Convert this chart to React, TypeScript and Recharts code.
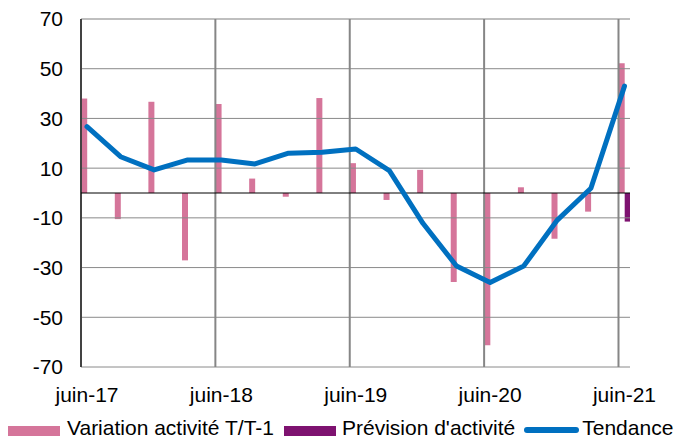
import { ComposedChart, Bar, Line, XAxis, YAxis, ReferenceLine } from 'recharts';

const quarters = [
  'juin-17', 'sept-17', 'déc-17', 'mars-18',
  'juin-18', 'sept-18', 'déc-18', 'mars-19',
  'juin-19', 'sept-19', 'déc-19', 'mars-20',
  'juin-20', 'sept-20', 'déc-20', 'mars-21',
  'juin-21',
];
const variation = [38, -10.5, 36.7, -27.1, 35.8, 5.8, -1.5, 38.2, 12, -2.8, 9.3, -35.8, -61.3, 2.3, -18.4, -7.5, 52.2];
const prevision = [null, null, null, null, null, null, null, null, null, null, null, null, null, null, null, null, -11.5];
const tendance = [26.7, 14.6, 9.3, 13.3, 13.3, 11.7, 16, 16.4, 17.7, 9, -12.2, -29.4, -36, -29.4, -10.9, 1.9, 43];
const yTicks = [-70, -50, -30, -10, 10, 30, 50, 70];
const xTickLabels = ['juin-17', 'juin-18', 'juin-19', 'juin-20', 'juin-21'];

const PINK = '#d5759a';
const PURPLE = '#7e1270';
const BLUE = '#0070c0';
const FONT = '"Liberation Sans", Arial, sans-serif';

// half a bar group, in quarters (gridlines sit at the left edge of each group)
const shift = 0.1786;

const data = quarters.map((q, i) => ({
  i,
  q,
  variation: variation[i],
  prevision: prevision[i],
  tendance: tendance[i],
}));

const xTicks = xTickLabels.map((l) => quarters.indexOf(l));

const LegendRow = () => (
  <div
    style={{
      position: 'absolute',
      top: 408,
      left: 0,
      display: 'flex',
      alignItems: 'center',
      height: 24,
      lineHeight: '24px',
      fontFamily: FONT,
      fontSize: 21,
      whiteSpace: 'nowrap',
      color: '#000',
    }}
  >
    <span style={{ width: 52, height: 10, background: PINK, marginTop: 5 }} />
    <span style={{ marginLeft: 7 }}>Variation activité T/T-1</span>
    <span style={{ width: 52, height: 10, background: PURPLE, marginLeft: 10, marginTop: 5 }} />
    <span style={{ marginLeft: 6 }}>Prévision d'activité</span>
    <span style={{ width: 55, height: 6, background: BLUE, borderRadius: 3, marginLeft: 9, marginTop: 4 }} />
    <span style={{ marginLeft: 3 }}>Tendance</span>
  </div>
);

export default function App() {
  return (
    <div style={{ position: 'relative', width: 674, height: 433 }}>
      <ComposedChart
        width={674}
        height={400}
        data={data}
        margin={{ top: 11, right: 52, left: 0, bottom: 1 }}
        barGap={0}
        barCategoryGap={0}
      >
        <XAxis
          dataKey="i"
          type="number"
          domain={[-shift, 16.164]}
          allowDataOverflow
          ticks={xTicks}
          tickFormatter={(v) => quarters[v]}
          axisLine={false}
          tickLine={false}
          tickMargin={14}
          height={40}
          interval={0}
          tick={{ fontSize: 21, fontFamily: FONT, fill: '#000' }}
        />
        <YAxis
          type="number"
          domain={[-70, 70]}
          ticks={yTicks}
          interval={0}
          width={73}
          tickLine={false}
          tickMargin={12}
          axisLine={{ stroke: '#000', strokeWidth: 1 }}
          tick={{ fontSize: 21, fontFamily: FONT, fill: '#000' }}
        />
        {yTicks.map((t) => (
          <ReferenceLine
            key={'h' + t}
            y={t}
            stroke={t === 70 ? '#bfbfbf' : '#8a8a8a'}
            strokeWidth={t === 70 ? 2 : 1}
          />
        ))}
        {xTicks.map((t) => (
          <ReferenceLine key={'v' + t} x={t - shift} stroke="#868686" strokeWidth={2} />
        ))}
        <Bar dataKey="variation" fill={PINK} barSize={6} isAnimationActive={false} />
        <Bar dataKey="prevision" fill={PURPLE} barSize={6} isAnimationActive={false} />
        <ReferenceLine y={0} stroke="#000" strokeWidth={1} />
        <Line
          type="linear"
          dataKey="tendance"
          stroke={BLUE}
          strokeWidth={5}
          dot={false}
          strokeLinecap="round"
          strokeLinejoin="round"
          isAnimationActive={false}
        />
      </ComposedChart>
      <LegendRow />
    </div>
  );
}
